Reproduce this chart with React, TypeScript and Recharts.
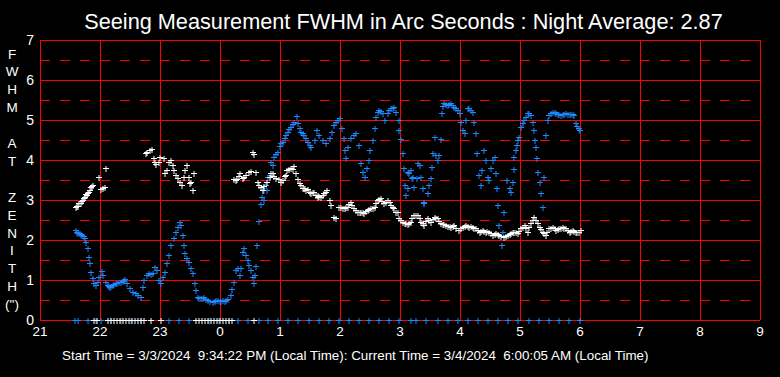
import React from "react";
import { ScatterChart, Scatter, XAxis, YAxis, ReferenceLine } from "recharts";

// x = hours after 21:00, y = FWHM in arc seconds
const hourTicks = [0, 1, 2, 3, 4, 5, 6, 7, 8, 9, 10, 11, 12];
const hourLabels = ["21", "22", "23", "0", "1", "2", "3", "4", "5", "6", "7", "8", "9"];
const fwhmTicks = [0, 1, 2, 3, 4, 5, 6, 7];
const halfLines = [0.5, 1.5, 2.5, 3.5, 4.5, 5.5, 6.5];
const yLabel = ["F", "W", "H", "M", "", "A", "T", "", "Z", "E", "N", "I", "T", "H", "(\")"];

const blueEvening: [number, number][] = [
  [0.58, 2.25], [0.6, 2.2], [0.62, 2.18], [0.65, 2.17], [0.67, 2.15], [0.69, 2.13], [0.71, 2.1],
  [0.73, 2.05], [0.75, 1.96], [0.78, 1.8], [0.8, 1.58],
  [0.82, 1.42], [0.84, 1.21], [0.86, 1.05], [0.89, 0.92], [0.92, 0.87], [0.95, 0.96], [0.97, 1.08],
  [1.01, 1.23], [1.04, 1.13], [1.08, 0.96], [1.11, 0.87], [1.13, 0.85], [1.15, 0.83], [1.17, 0.85],
  [1.2, 0.87], [1.22, 0.9], [1.25, 0.92], [1.27, 0.93], [1.3, 0.94], [1.33, 0.96], [1.36, 0.98],
  [1.38, 1.0], [1.4, 1.02], [1.44, 0.92], [1.49, 0.79], [1.54, 0.71], [1.58, 0.67], [1.61, 0.63],
  [1.66, 0.58], [1.7, 0.83], [1.72, 1.0], [1.77, 1.13], [1.8, 1.17], [1.83, 1.15], [1.86, 1.17],
  [1.9, 1.33], [1.93, 1.25],
  [1.97, 1.0], [2.0, 0.92], [2.03, 1.08], [2.07, 1.21], [2.1, 1.42], [2.14, 1.63], [2.17, 1.88],
  [2.21, 2.04], [2.25, 2.21], [2.28, 2.33], [2.31, 2.46], [2.33, 2.38], [2.36, 2.13], [2.38, 1.88],
  [2.4, 1.67], [2.43, 1.54], [2.47, 1.46], [2.5, 1.29], [2.53, 1.17], [2.56, 0.92], [2.58, 0.75],
  [2.61, 0.58], [2.64, 0.55], [2.67, 0.54], [2.7, 0.56], [2.72, 0.58], [2.75, 0.52], [2.78, 0.5],
  [2.82, 0.47], [2.86, 0.46], [2.9, 0.48], [2.92, 0.5], [2.95, 0.5], [2.98, 0.47], [3.0, 0.48],
  [3.03, 0.5], [3.06, 0.48], [3.09, 0.5], [3.11, 0.52], [3.16, 0.63], [3.18, 0.77], [3.21, 0.96],
];

const blueMorning: [number, number][] = [
  [3.25, 1.25], [3.28, 1.29], [3.31, 1.13], [3.33, 1.29], [3.36, 1.71], [3.39, 1.79], [3.42, 1.63],
  [3.45, 1.5], [3.47, 1.38], [3.5, 1.25], [3.53, 1.08], [3.55, 0.92], [3.57, 1.13], [3.58, 1.35],
  [3.6, 1.88], [3.64, 2.47], [3.66, 2.9], [3.68, 3.08], [3.71, 3.25], [3.72, 3.0], [3.75, 3.38],
  [3.76, 3.25], [3.78, 3.58], [3.81, 3.63], [3.83, 3.96], [3.86, 3.88], [3.89, 4.08], [3.92, 4.15],
  [3.95, 4.21], [3.98, 4.35],
  [4.0, 4.42], [4.03, 4.46], [4.06, 4.54], [4.08, 4.62], [4.11, 4.71], [4.14, 4.77], [4.17, 4.83],
  [4.2, 4.9], [4.22, 4.96], [4.26, 5.11],
  [4.29, 4.92], [4.31, 4.8], [4.33, 4.71], [4.36, 4.67], [4.39, 4.63], [4.42, 4.55], [4.45, 4.46],
  [4.48, 4.38], [4.5, 4.33], [4.56, 4.5], [4.6, 4.75],
  [4.64, 4.63], [4.7, 4.5], [4.75, 4.42], [4.81, 4.54], [4.85, 4.71], [4.89, 4.88], [4.92, 4.95],
  [4.95, 5.0],
  [4.98, 5.04], [5.02, 4.79], [5.05, 4.54], [5.07, 4.25], [5.08, 4.04], [5.12, 4.33], [5.17, 4.54],
  [5.21, 4.63], [5.25, 4.67], [5.3, 4.38], [5.33, 3.92], [5.36, 3.71], [5.4, 3.58], [5.43, 3.79],
  [5.46, 4.0], [5.49, 4.25], [5.53, 4.5], [5.56, 4.79], [5.58, 5.08], [5.61, 5.2], [5.64, 5.25],
  [5.67, 5.22], [5.7, 5.17],
  [5.73, 5.0], [5.78, 5.17], [5.8, 5.25], [5.83, 5.29], [5.86, 5.31], [5.88, 5.33], [5.92, 5.21],
  [5.96, 5.0], [5.97, 4.75],
  [6.0, 4.52], [6.03, 4.17], [6.05, 3.79], [6.07, 3.38], [6.08, 3.13], [6.11, 3.29], [6.12, 3.71],
  [6.14, 3.67], [6.17, 3.75], [6.18, 3.54], [6.2, 3.58], [6.22, 3.33], [6.27, 3.54], [6.28, 3.92],
  [6.31, 3.88], [6.33, 3.58], [6.36, 3.29], [6.38, 2.93], [6.39, 2.96], [6.45, 3.17], [6.47, 3.38],
  [6.5, 3.54], [6.51, 3.83], [6.53, 4.17], [6.56, 4.58], [6.58, 4.13], [6.61, 4.0], [6.64, 4.13],
  [6.66, 4.52], [6.68, 5.17], [6.7, 5.35], [6.72, 5.42], [6.75, 5.4], [6.78, 5.38], [6.8, 5.4],
  [6.83, 5.42], [6.86, 5.38], [6.89, 5.33], [6.92, 5.3], [6.95, 5.25],
  [6.99, 5.17], [7.0, 4.96], [7.03, 4.75], [7.06, 4.67], [7.08, 5.0], [7.12, 5.29], [7.14, 5.3],
  [7.17, 5.25],
  [7.2, 5.21], [7.22, 4.96], [7.25, 4.67], [7.27, 4.17], [7.3, 3.63], [7.33, 3.38], [7.35, 3.75],
  [7.39, 4.25], [7.42, 4.0], [7.45, 3.58], [7.47, 3.5], [7.5, 3.79], [7.53, 4.0], [7.56, 4.08],
  [7.58, 3.67], [7.6, 3.29], [7.61, 2.88], [7.64, 2.38], [7.68, 1.88], [7.7, 2.21], [7.72, 2.71],
  [7.77, 3.5], [7.81, 3.29], [7.83, 3.21], [7.86, 3.46], [7.88, 3.77], [7.89, 4.08], [7.92, 4.25],
  [7.93, 4.38], [7.95, 4.5], [7.97, 4.58], [8.0, 4.83], [8.03, 4.92], [8.05, 5.0], [8.08, 5.08],
  [8.11, 5.17], [8.13, 5.18],
  [8.16, 5.13], [8.2, 4.96], [8.21, 4.75], [8.23, 4.5], [8.25, 4.33], [8.27, 4.04], [8.28, 3.71],
  [8.31, 3.46], [8.33, 3.17], [8.36, 2.83], [8.39, 3.58], [8.42, 4.63], [8.45, 5.0], [8.47, 5.13],
  [8.5, 5.17], [8.53, 5.21], [8.56, 5.19], [8.58, 5.17], [8.61, 5.15], [8.64, 5.16], [8.67, 5.13],
  [8.7, 5.15], [8.72, 5.16], [8.75, 5.17], [8.78, 5.15], [8.81, 5.16], [8.83, 5.15], [8.86, 5.14],
  [8.89, 5.13], [8.92, 4.92], [8.94, 4.85],
  [8.96, 4.79], [8.99, 4.75],
];

const blueZero = [
  0.57, 0.62, 0.78, 0.92, 1.0, 1.17, 1.33, 1.5, 1.67, 2.13, 2.3, 2.47, 2.8, 2.97, 3.13, 3.28, 3.45,
  3.63, 3.78, 3.95, 4.12, 4.28, 4.47, 4.63, 4.8, 4.97, 5.13, 5.3, 5.47, 5.63, 5.8, 5.97, 6.17, 6.25,
  6.42, 6.62, 6.78, 6.95, 7.12, 7.28, 7.45, 7.62, 7.78, 7.95, 8.13, 8.3, 8.47, 8.63, 8.8, 8.98,
];

const whiteSeeing: [number, number][] = [
  [0.58, 2.83], [0.6, 2.84], [0.62, 2.85], [0.64, 2.92], [0.66, 2.92], [0.68, 2.97], [0.7, 3.0],
  [0.72, 3.04], [0.73, 3.08], [0.75, 3.15], [0.77, 3.12],
  [0.78, 3.17], [0.8, 3.2], [0.81, 3.25], [0.83, 3.33], [0.85, 3.35], [0.86, 3.38], [0.97, 3.57],
  [1.0, 3.27], [1.03, 3.29],
  [1.06, 3.33], [1.09, 3.79], [1.75, 4.18], [1.77, 4.2], [1.81, 4.25], [1.85, 4.27], [1.88, 4.04],
  [1.9, 3.95], [1.92, 3.9],
  [1.96, 3.96], [1.99, 4.08], [2.05, 4.04], [2.07, 3.67], [2.1, 3.75], [2.14, 3.96], [2.17, 4.0],
  [2.2, 3.88], [2.22, 3.75], [2.25, 3.63], [2.28, 3.54], [2.31, 3.46], [2.35, 3.38], [2.38, 3.58],
  [2.4, 3.75], [2.43, 3.88], [2.46, 3.58], [2.49, 3.43], [2.5, 3.46], [2.53, 3.25], [2.55, 3.67],
  [3.22, 3.52], [3.25, 3.5], [3.27, 3.52], [3.3, 3.6], [3.32, 3.67], [3.36, 3.54], [3.39, 3.58],
  [3.42, 3.63], [3.46, 3.71], [3.5, 3.73],
  [3.53, 4.21], [3.55, 4.15], [3.58, 3.71], [3.61, 3.46], [3.64, 3.38], [3.67, 3.33], [3.7, 3.25],
  [3.72, 3.35], [3.77, 3.46], [3.81, 3.58], [3.83, 3.67], [3.86, 3.67], [3.88, 3.6], [3.92, 3.54],
  [3.96, 3.52], [4.0, 3.44], [4.03, 3.5], [4.06, 3.6], [4.08, 3.63], [4.1, 3.75], [4.14, 3.77],
  [4.17, 3.8], [4.2, 3.77],
  [4.22, 3.85], [4.25, 3.67], [4.29, 3.52], [4.32, 3.42], [4.33, 3.38], [4.36, 3.29], [4.39, 3.29],
  [4.4, 3.29], [4.42, 3.25], [4.45, 3.27], [4.48, 3.2], [4.5, 3.17], [4.53, 3.19], [4.55, 3.21],
  [4.58, 3.13], [4.61, 3.13], [4.62, 3.08],
  [4.64, 3.1], [4.67, 3.08], [4.7, 3.12], [4.72, 3.17], [4.75, 3.2], [4.77, 3.25], [4.81, 3.0],
  [4.83, 2.88], [4.88, 2.58], [4.92, 2.54],
  [4.96, 2.82], [5.0, 2.83], [5.03, 2.8], [5.06, 2.79], [5.09, 2.82], [5.11, 2.83], [5.14, 2.9],
  [5.17, 2.96], [5.19, 2.88], [5.22, 2.79], [5.25, 2.75], [5.28, 2.71],
  [5.31, 2.7], [5.33, 2.71], [5.36, 2.69], [5.39, 2.67], [5.42, 2.72], [5.45, 2.75], [5.47, 2.77],
  [5.5, 2.79], [5.53, 2.8], [5.56, 2.83], [5.58, 2.92], [5.61, 3.0], [5.64, 3.02], [5.67, 3.04],
  [5.69, 2.98], [5.72, 2.92], [5.75, 2.96], [5.78, 3.0], [5.81, 2.94], [5.83, 2.88], [5.86, 2.83],
  [5.89, 2.79], [5.92, 2.71], [5.95, 2.71],
  [5.97, 2.56], [6.0, 2.5], [6.03, 2.44], [6.06, 2.42], [6.08, 2.42], [6.11, 2.4], [6.14, 2.42],
  [6.17, 2.46], [6.19, 2.55], [6.22, 2.63], [6.25, 2.62], [6.28, 2.63],
  [6.31, 2.55], [6.33, 2.46], [6.36, 2.42], [6.38, 2.38], [6.42, 2.48], [6.45, 2.54], [6.47, 2.5],
  [6.5, 2.46], [6.53, 2.52], [6.56, 2.58], [6.58, 2.56], [6.61, 2.54], [6.64, 2.47], [6.67, 2.42],
  [6.7, 2.4], [6.72, 2.39], [6.75, 2.38], [6.78, 2.36], [6.81, 2.35], [6.83, 2.33], [6.86, 2.36],
  [6.89, 2.38], [6.92, 2.31], [6.97, 2.25], [7.0, 2.3], [7.03, 2.33], [7.06, 2.36], [7.08, 2.38],
  [7.11, 2.35], [7.14, 2.33], [7.17, 2.34],
  [7.2, 2.33], [7.22, 2.31], [7.25, 2.29], [7.28, 2.25], [7.31, 2.21], [7.33, 2.23], [7.36, 2.25],
  [7.39, 2.23], [7.42, 2.21], [7.44, 2.22], [7.47, 2.21], [7.5, 2.17], [7.53, 2.13],
  [7.56, 2.15], [7.58, 2.17], [7.61, 2.15], [7.64, 2.13], [7.67, 2.1], [7.72, 2.08], [7.75, 2.1],
  [7.78, 2.13], [7.81, 2.15], [7.83, 2.17], [7.86, 2.19], [7.89, 2.21], [7.92, 2.19], [7.95, 2.17],
  [7.97, 2.23], [8.0, 2.29], [8.03, 2.33], [8.06, 2.38], [8.08, 2.3], [8.11, 2.21], [8.14, 2.32],
  [8.17, 2.42], [8.2, 2.5], [8.22, 2.58], [8.25, 2.5], [8.28, 2.42], [8.31, 2.33],
  [8.33, 2.27], [8.36, 2.21], [8.39, 2.17], [8.42, 2.13], [8.44, 2.2], [8.47, 2.29], [8.5, 2.31],
  [8.53, 2.33], [8.56, 2.29], [8.58, 2.25], [8.61, 2.27], [8.64, 2.29], [8.67, 2.31], [8.7, 2.33],
  [8.72, 2.31], [8.75, 2.29], [8.78, 2.25], [8.81, 2.21], [8.83, 2.23], [8.86, 2.25], [8.89, 2.23],
  [8.92, 2.21], [8.94, 2.21], [8.97, 2.21], [9.0, 2.25],
];

const whiteZero = [
  0.88, 0.93, 1.12, 1.17, 1.22, 1.27, 1.32, 1.37, 1.42, 1.47, 1.52, 1.57, 1.62, 1.67, 1.72, 1.83,
  2.0, 2.58, 2.63, 2.68, 2.73, 2.78, 2.83, 2.88, 2.93, 2.98, 3.03, 3.08, 3.13, 3.18, 3.55,
];

const FONT = "'Liberation Sans', Arial, sans-serif";
const BLUE = "#1e88ff";
const RED = "#ff0000";

const pairsToPts = (pairs: [number, number][]) => pairs.map(([x, y]) => ({ x, y }));
const zerosToPts = (xs: number[]) => xs.map((x) => ({ x, y: 0 }));

const plus = (color: string) => (props: any) => {
  const { cx, cy } = props;
  if (cx == null || cy == null) return <g />;
  const x = Math.round(cx) + 0.5;
  const y = Math.round(cy) + 0.5;
  return (
    <path
      d={`M${x - 2.5},${y}H${x + 3.5}M${x + 0.5},${y - 2.5}V${y + 3.5}`}
      stroke={color}
      strokeWidth={1}
      fill="none"
    />
  );
};

const App = () => {
  return (
    <div style={{ position: "absolute", left: 0, top: 0, width: 780, height: 377, background: "#000" }}>
      <ScatterChart width={780} height={377} margin={{ top: 40, right: 20, bottom: 0, left: 0 }}>
        <XAxis
          type="number"
          dataKey="x"
          domain={[0, 12]}
          ticks={hourTicks}
          interval={0}
          height={57}
          axisLine={false}
          tickLine={false}
          tickSize={0}
          tickMargin={6}
          tickFormatter={(v: number) => hourLabels[v]}
          tick={{ fill: "#fff", fontSize: 13.5, fontFamily: FONT }}
        />
        <YAxis
          type="number"
          dataKey="y"
          domain={[0, 7]}
          ticks={fwhmTicks}
          interval={0}
          width={40}
          axisLine={false}
          tickLine={false}
          tickSize={0}
          tickMargin={6}
          tick={{ fill: "#fff", fontSize: 14, fontFamily: FONT }}
        />
        {halfLines.map((v) => (
          <ReferenceLine key={"h" + v} y={v} stroke={RED} strokeDasharray="10 10" shapeRendering="crispEdges" />
        ))}
        {fwhmTicks.map((v) => (
          <ReferenceLine key={"y" + v} y={v} stroke={RED} shapeRendering="crispEdges" />
        ))}
        {hourTicks.map((v) => (
          <ReferenceLine key={"x" + v} x={v} stroke={RED} shapeRendering="crispEdges" />
        ))}
        <Scatter data={zerosToPts(blueZero)} shape={plus(BLUE)} isAnimationActive={false} />
        <Scatter data={pairsToPts(blueEvening)} shape={plus(BLUE)} isAnimationActive={false} />
        <Scatter data={pairsToPts(blueMorning)} shape={plus(BLUE)} isAnimationActive={false} />
        <Scatter data={zerosToPts(whiteZero)} shape={plus("#fff")} isAnimationActive={false} />
        <Scatter data={pairsToPts(whiteSeeing)} shape={plus("#fff")} isAnimationActive={false} />
      </ScatterChart>
      <svg
        width={780}
        height={377}
        style={{ position: "absolute", left: 0, top: 0, pointerEvents: "none" }}
        fontFamily={FONT}
        fill="#fff"
      >
        <text x={403.5} y={28.5} fontSize={21.7} textAnchor="middle">
          Seeing Measurement FWHM in Arc Seconds : Night Average: 2.87
        </text>
        {yLabel.map((c, i) => (
          <text key={i} x={12} y={58.5 + i * 17.9} fontSize={13.5} textAnchor="middle">
            {c}
          </text>
        ))}
        <text x={62} y={360} fontSize={13.4} style={{ whiteSpace: "pre" }}>
          {"Start Time = 3/3/2024  9:34:22 PM (Local Time): Current Time = 3/4/2024  6:00:05 AM (Local Time)"}
        </text>
      </svg>
    </div>
  );
};

export default App;
